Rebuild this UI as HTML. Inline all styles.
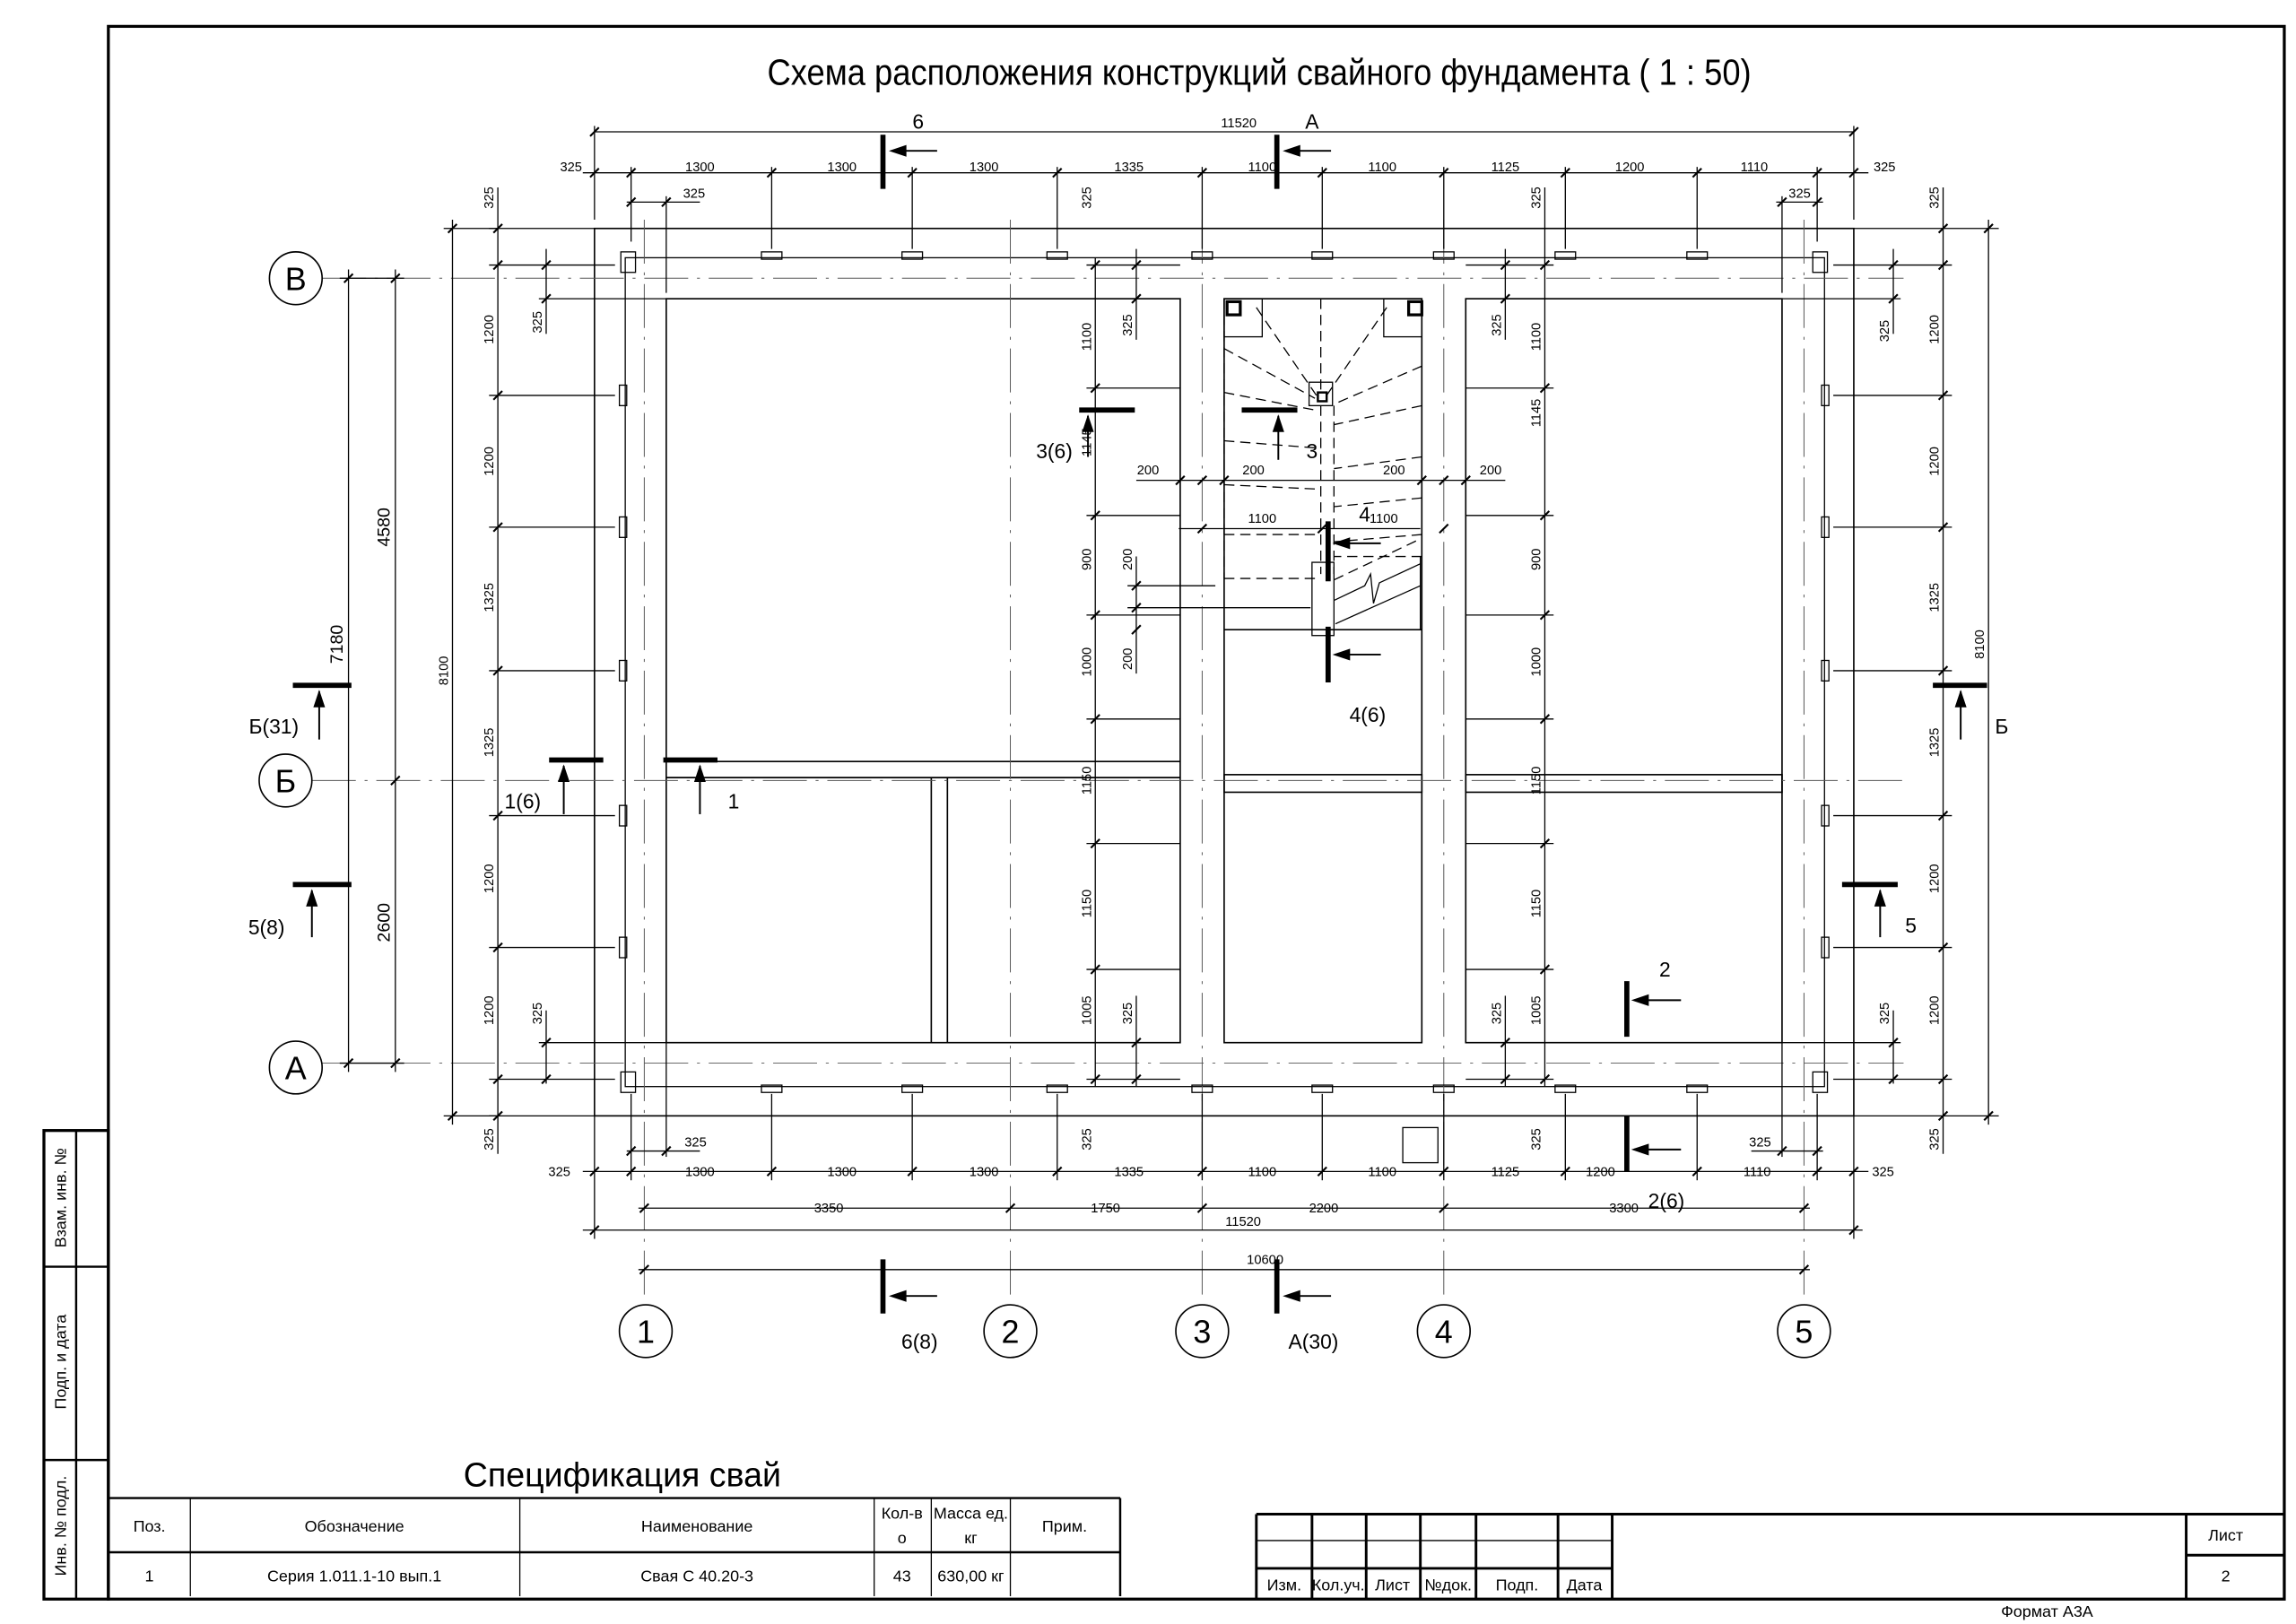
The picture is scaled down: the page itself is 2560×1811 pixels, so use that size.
<!DOCTYPE html>
<html><head><meta charset="utf-8"><style>
html,body{margin:0;padding:0;background:#fff}
svg{display:block}
text{font-family:"Liberation Sans Narrow","Liberation Sans",sans-serif;fill:#000}
</style></head><body>
<svg width="2560" height="1811" viewBox="0 0 1568 1109" preserveAspectRatio="none" xmlns="http://www.w3.org/2000/svg">
<defs>
<path id="t" d="M-3,3 L3,-3" stroke="#000" stroke-width="1.3"/>
<path id="ar" d="M0,0 L12,-4 L12,4 Z" fill="#000"/>
<path id="au" d="M0,0 L-4,12 L4,12 Z" fill="#000"/>
</defs>
<g fill="none" stroke="#000">
<rect x="74" y="18" width="1486" height="1074" stroke-width="2"/>
<rect x="30" y="772" width="44" height="320" stroke-width="2"/>
<line x1="52" y1="772" x2="52" y2="1092" stroke-width="1.5"/>
<line x1="30" y1="865" x2="74" y2="865" stroke-width="1.5"/>
<line x1="30" y1="997" x2="74" y2="997" stroke-width="1.5"/>

<rect x="406" y="156" width="860" height="606" stroke-width="1"/>
<rect x="427" y="176" width="819" height="566" stroke-width="0.8"/>
<g stroke-width="1">
<rect x="455" y="204" width="351" height="508"/>
<line x1="455" y1="520" x2="806" y2="520"/><line x1="455" y1="531" x2="806" y2="531"/>
<line x1="636" y1="531" x2="636" y2="712"/><line x1="647" y1="531" x2="647" y2="712"/>
<rect x="836" y="204" width="135" height="508"/>
<rect x="836" y="529" width="135" height="12"/>
<rect x="1001" y="204" width="216" height="508"/>
<rect x="1001" y="529" width="216" height="12"/>
<line x1="836" y1="430" x2="971" y2="430"/>
</g>
<g stroke-width="0.6" stroke-dasharray="30,6,2,6" stroke="#555">
<line x1="220" y1="190" x2="1300" y2="190"/>
<line x1="213" y1="533" x2="1300" y2="533"/>
<line x1="220" y1="726" x2="1300" y2="726"/>
<line x1="440" y1="150" x2="440" y2="890"/>
<line x1="690" y1="150" x2="690" y2="890"/>
<line x1="821" y1="150" x2="821" y2="890"/>
<line x1="986" y1="150" x2="986" y2="890"/>
<line x1="1232" y1="150" x2="1232" y2="890"/>
</g>
<g stroke-width="0.8">
<rect x="424" y="172" width="10" height="14"/><rect x="1238" y="172" width="10" height="14"/>
<rect x="424" y="732" width="10" height="14"/><rect x="1238" y="732" width="10" height="14"/>
<rect x="520" y="172" width="14" height="5"/><rect x="616" y="172" width="14" height="5"/><rect x="715" y="172" width="14" height="5"/><rect x="814" y="172" width="14" height="5"/><rect x="896" y="172" width="14" height="5"/><rect x="979" y="172" width="14" height="5"/><rect x="1062" y="172" width="14" height="5"/><rect x="1152" y="172" width="14" height="5"/>
<rect x="520" y="741" width="14" height="5"/><rect x="616" y="741" width="14" height="5"/><rect x="715" y="741" width="14" height="5"/><rect x="814" y="741" width="14" height="5"/><rect x="896" y="741" width="14" height="5"/><rect x="979" y="741" width="14" height="5"/><rect x="1062" y="741" width="14" height="5"/><rect x="1152" y="741" width="14" height="5"/>
<rect x="423" y="263" width="5" height="14"/><rect x="423" y="353" width="5" height="14"/><rect x="423" y="451" width="5" height="14"/><rect x="423" y="550" width="5" height="14"/><rect x="423" y="640" width="5" height="14"/>
<rect x="1244" y="263" width="5" height="14"/><rect x="1244" y="353" width="5" height="14"/><rect x="1244" y="451" width="5" height="14"/><rect x="1244" y="550" width="5" height="14"/><rect x="1244" y="640" width="5" height="14"/>
<rect x="958" y="770" width="24" height="24"/>
</g>

<g stroke-width="0.8">
<line x1="406" y1="90" x2="1266" y2="90"/>
<line x1="398" y1="118" x2="1276" y2="118"/>
<line x1="406" y1="86" x2="406" y2="150"/><line x1="1266" y1="86" x2="1266" y2="150"/>
<line x1="431" y1="114" x2="431" y2="165"/><line x1="527" y1="114" x2="527" y2="170"/><line x1="623" y1="114" x2="623" y2="170"/><line x1="722" y1="114" x2="722" y2="170"/><line x1="821" y1="114" x2="821" y2="170"/><line x1="903" y1="114" x2="903" y2="170"/><line x1="986" y1="114" x2="986" y2="170"/><line x1="1069" y1="114" x2="1069" y2="170"/><line x1="1159" y1="114" x2="1159" y2="170"/><line x1="1241" y1="114" x2="1241" y2="165"/>
<line x1="428" y1="138" x2="478" y2="138"/><line x1="455" y1="134" x2="455" y2="200"/>
<line x1="1213" y1="138" x2="1245" y2="138"/><line x1="1217" y1="134" x2="1217" y2="200"/>
<line x1="398" y1="800" x2="1276" y2="800"/>
<line x1="431" y1="747" x2="431" y2="806"/><line x1="527" y1="747" x2="527" y2="806"/><line x1="623" y1="747" x2="623" y2="806"/><line x1="722" y1="747" x2="722" y2="806"/><line x1="821" y1="747" x2="821" y2="806"/><line x1="903" y1="747" x2="903" y2="806"/><line x1="986" y1="747" x2="986" y2="806"/><line x1="1069" y1="747" x2="1069" y2="806"/><line x1="1159" y1="747" x2="1159" y2="806"/><line x1="1241" y1="747" x2="1241" y2="806"/>
<line x1="428" y1="786" x2="478" y2="786"/><line x1="455" y1="712" x2="455" y2="790"/>
<line x1="1196" y1="786" x2="1245" y2="786"/><line x1="1217" y1="712" x2="1217" y2="790"/>
<line x1="436" y1="825" x2="1236" y2="825"/>
<line x1="398" y1="840" x2="1272" y2="840"/>
<line x1="406" y1="762" x2="406" y2="846"/><line x1="1266" y1="762" x2="1266" y2="846"/>
<line x1="436" y1="867" x2="1236" y2="867"/>
<line x1="340" y1="128" x2="340" y2="788"/>
<line x1="334" y1="156" x2="406" y2="156"/><line x1="334" y1="181" x2="420" y2="181"/><line x1="334" y1="270" x2="420" y2="270"/><line x1="334" y1="360" x2="420" y2="360"/><line x1="334" y1="458" x2="420" y2="458"/><line x1="334" y1="557" x2="420" y2="557"/><line x1="334" y1="647" x2="420" y2="647"/><line x1="334" y1="737" x2="420" y2="737"/><line x1="334" y1="762" x2="406" y2="762"/>
<line x1="309" y1="150" x2="309" y2="768"/><line x1="303" y1="156" x2="340" y2="156"/><line x1="303" y1="762" x2="340" y2="762"/>
<line x1="270" y1="184" x2="270" y2="732"/>
<line x1="238" y1="184" x2="238" y2="732"/>
<line x1="232" y1="190" x2="276" y2="190"/><line x1="232" y1="726" x2="276" y2="726"/>
<line x1="373" y1="170" x2="373" y2="228"/><line x1="368" y1="204" x2="455" y2="204"/>
<line x1="373" y1="690" x2="373" y2="740"/><line x1="368" y1="712" x2="455" y2="712"/>
<line x1="1327" y1="128" x2="1327" y2="788"/>
<line x1="1266" y1="156" x2="1365" y2="156"/><line x1="1252" y1="181" x2="1333" y2="181"/><line x1="1252" y1="270" x2="1333" y2="270"/><line x1="1252" y1="360" x2="1333" y2="360"/><line x1="1252" y1="458" x2="1333" y2="458"/><line x1="1252" y1="557" x2="1333" y2="557"/><line x1="1252" y1="647" x2="1333" y2="647"/><line x1="1252" y1="737" x2="1333" y2="737"/><line x1="1266" y1="762" x2="1365" y2="762"/>
<line x1="1358" y1="150" x2="1358" y2="768"/>
<line x1="1293" y1="170" x2="1293" y2="228"/><line x1="1217" y1="204" x2="1298" y2="204"/>
<line x1="1293" y1="690" x2="1293" y2="740"/><line x1="1217" y1="712" x2="1298" y2="712"/>
<line x1="748" y1="176" x2="748" y2="742"/>
<line x1="742" y1="181" x2="806" y2="181"/><line x1="742" y1="265" x2="806" y2="265"/><line x1="742" y1="352" x2="806" y2="352"/><line x1="742" y1="420" x2="806" y2="420"/><line x1="742" y1="491" x2="806" y2="491"/><line x1="742" y1="576" x2="806" y2="576"/><line x1="742" y1="662" x2="806" y2="662"/><line x1="742" y1="737" x2="806" y2="737"/>
<line x1="776" y1="170" x2="776" y2="232"/><line x1="776" y1="380" x2="776" y2="460"/><line x1="770" y1="400" x2="830" y2="400"/><line x1="770" y1="415" x2="895" y2="415"/>
<line x1="776" y1="680" x2="776" y2="742"/>
<line x1="1055" y1="128" x2="1055" y2="742"/>
<line x1="1001" y1="181" x2="1061" y2="181"/><line x1="1001" y1="265" x2="1061" y2="265"/><line x1="1001" y1="352" x2="1061" y2="352"/><line x1="1001" y1="420" x2="1061" y2="420"/><line x1="1001" y1="491" x2="1061" y2="491"/><line x1="1001" y1="576" x2="1061" y2="576"/><line x1="1001" y1="662" x2="1061" y2="662"/><line x1="1001" y1="737" x2="1061" y2="737"/>
<line x1="1028" y1="170" x2="1028" y2="232"/><line x1="1028" y1="680" x2="1028" y2="742"/>
<line x1="776" y1="328" x2="1028" y2="328"/>
<line x1="805" y1="361" x2="835" y2="361"/><line x1="835" y1="361" x2="970" y2="361"/>
</g>
<g>
<use href="#t" x="406" y="90"/><use href="#t" x="1266" y="90"/>
<use href="#t" x="406" y="118"/><use href="#t" x="431" y="118"/><use href="#t" x="527" y="118"/><use href="#t" x="623" y="118"/><use href="#t" x="722" y="118"/><use href="#t" x="821" y="118"/><use href="#t" x="903" y="118"/><use href="#t" x="986" y="118"/><use href="#t" x="1069" y="118"/><use href="#t" x="1159" y="118"/><use href="#t" x="1241" y="118"/><use href="#t" x="1266" y="118"/>
<use href="#t" x="431" y="138"/><use href="#t" x="455" y="138"/><use href="#t" x="1217" y="138"/><use href="#t" x="1241" y="138"/>
<use href="#t" x="406" y="800"/><use href="#t" x="431" y="800"/><use href="#t" x="527" y="800"/><use href="#t" x="623" y="800"/><use href="#t" x="722" y="800"/><use href="#t" x="821" y="800"/><use href="#t" x="903" y="800"/><use href="#t" x="986" y="800"/><use href="#t" x="1069" y="800"/><use href="#t" x="1159" y="800"/><use href="#t" x="1241" y="800"/><use href="#t" x="1266" y="800"/>
<use href="#t" x="431" y="786"/><use href="#t" x="455" y="786"/><use href="#t" x="1217" y="786"/><use href="#t" x="1241" y="786"/>
<use href="#t" x="440" y="825"/><use href="#t" x="690" y="825"/><use href="#t" x="821" y="825"/><use href="#t" x="986" y="825"/><use href="#t" x="1232" y="825"/>
<use href="#t" x="406" y="840"/><use href="#t" x="1266" y="840"/>
<use href="#t" x="440" y="867"/><use href="#t" x="1232" y="867"/>
<use href="#t" x="340" y="156"/><use href="#t" x="340" y="181"/><use href="#t" x="340" y="270"/><use href="#t" x="340" y="360"/><use href="#t" x="340" y="458"/><use href="#t" x="340" y="557"/><use href="#t" x="340" y="647"/><use href="#t" x="340" y="737"/><use href="#t" x="340" y="762"/>
<use href="#t" x="309" y="156"/><use href="#t" x="309" y="762"/>
<use href="#t" x="270" y="190"/><use href="#t" x="270" y="533"/><use href="#t" x="270" y="726"/><use href="#t" x="238" y="190"/><use href="#t" x="238" y="726"/>
<use href="#t" x="373" y="181"/><use href="#t" x="373" y="204"/><use href="#t" x="373" y="712"/><use href="#t" x="373" y="737"/>
<use href="#t" x="1327" y="156"/><use href="#t" x="1327" y="181"/><use href="#t" x="1327" y="270"/><use href="#t" x="1327" y="360"/><use href="#t" x="1327" y="458"/><use href="#t" x="1327" y="557"/><use href="#t" x="1327" y="647"/><use href="#t" x="1327" y="737"/><use href="#t" x="1327" y="762"/>
<use href="#t" x="1358" y="156"/><use href="#t" x="1358" y="762"/>
<use href="#t" x="1293" y="181"/><use href="#t" x="1293" y="204"/><use href="#t" x="1293" y="712"/><use href="#t" x="1293" y="737"/>
<use href="#t" x="748" y="181"/><use href="#t" x="748" y="265"/><use href="#t" x="748" y="352"/><use href="#t" x="748" y="420"/><use href="#t" x="748" y="491"/><use href="#t" x="748" y="576"/><use href="#t" x="748" y="662"/><use href="#t" x="748" y="737"/>
<use href="#t" x="1055" y="181"/><use href="#t" x="1055" y="265"/><use href="#t" x="1055" y="352"/><use href="#t" x="1055" y="420"/><use href="#t" x="1055" y="491"/><use href="#t" x="1055" y="576"/><use href="#t" x="1055" y="662"/><use href="#t" x="1055" y="737"/>
<use href="#t" x="776" y="181"/><use href="#t" x="776" y="204"/><use href="#t" x="776" y="400"/><use href="#t" x="776" y="415"/><use href="#t" x="776" y="430"/><use href="#t" x="776" y="712"/><use href="#t" x="776" y="737"/>
<use href="#t" x="1028" y="181"/><use href="#t" x="1028" y="204"/><use href="#t" x="1028" y="712"/><use href="#t" x="1028" y="737"/>
<use href="#t" x="806" y="328"/><use href="#t" x="821" y="328"/><use href="#t" x="836" y="328"/><use href="#t" x="971" y="328"/><use href="#t" x="986" y="328"/><use href="#t" x="1001" y="328"/>
<use href="#t" x="821" y="361"/><use href="#t" x="903" y="361"/><use href="#t" x="986" y="361"/>
</g>

<g stroke-width="0.8" fill="none">
<rect x="838" y="206" width="9" height="9" stroke-width="2"/><rect x="962" y="206" width="9" height="9" stroke-width="2"/>
<rect x="836" y="204" width="26" height="26"/><rect x="945" y="204" width="26" height="26"/>
<rect x="894" y="261" width="16" height="16"/><rect x="900" y="268" width="6" height="6" stroke-width="1.5"/>
<g stroke-dasharray="7,4">
<line x1="836" y1="204" x2="836" y2="395"/><line x1="971" y1="204" x2="971" y2="395"/>
<line x1="902" y1="204" x2="902" y2="270"/><line x1="902" y1="277" x2="902" y2="392"/><line x1="911" y1="277" x2="911" y2="392"/>
<line x1="858" y1="210" x2="899" y2="270"/><line x1="947" y1="210" x2="906" y2="270"/>
<line x1="836" y1="238" x2="898" y2="272"/><line x1="836" y1="268" x2="898" y2="280"/><line x1="836" y1="301" x2="900" y2="306"/><line x1="836" y1="331" x2="900" y2="334"/><line x1="836" y1="365" x2="900" y2="365"/><line x1="836" y1="395" x2="900" y2="395"/>
<line x1="971" y1="250" x2="911" y2="276"/><line x1="971" y1="277" x2="911" y2="290"/><line x1="971" y1="312" x2="911" y2="320"/><line x1="971" y1="340" x2="911" y2="346"/><line x1="971" y1="365" x2="911" y2="370"/><line x1="971" y1="380" x2="911" y2="380"/>
<line x1="911" y1="396" x2="970" y2="368"/>
</g>
<rect x="896" y="384" width="15" height="50"/>
<polyline points="911,410 932,400 936,392 938,412 942,398 970,385"/>
<line x1="912" y1="426" x2="970" y2="400"/>
<line x1="970" y1="380" x2="970" y2="430"/>
</g>

<g stroke-width="3.5">
<line x1="603" y1="92" x2="603" y2="129"/><line x1="872" y1="92" x2="872" y2="129"/>
<line x1="603" y1="860" x2="603" y2="897"/><line x1="872" y1="860" x2="872" y2="897"/>
<line x1="200" y1="468" x2="240" y2="468"/><line x1="200" y1="604" x2="240" y2="604"/>
<line x1="375" y1="519" x2="412" y2="519"/><line x1="453" y1="519" x2="490" y2="519"/>
<line x1="737" y1="280" x2="775" y2="280"/><line x1="848" y1="280" x2="886" y2="280"/>
<line x1="1320" y1="468" x2="1357" y2="468"/><line x1="1258" y1="604" x2="1296" y2="604"/>
<line x1="1111" y1="670" x2="1111" y2="708"/><line x1="1111" y1="762" x2="1111" y2="800"/>
<line x1="907" y1="356" x2="907" y2="397"/><line x1="907" y1="428" x2="907" y2="466"/>
</g>
<g stroke-width="1.2">
<line x1="610" y1="103" x2="640" y2="103"/><line x1="879" y1="103" x2="909" y2="103"/>
<line x1="610" y1="885" x2="640" y2="885"/><line x1="879" y1="885" x2="909" y2="885"/>
<line x1="218" y1="472" x2="218" y2="505"/><line x1="213" y1="608" x2="213" y2="640"/>
<line x1="385" y1="523" x2="385" y2="556"/><line x1="478" y1="523" x2="478" y2="556"/>
<line x1="743" y1="284" x2="743" y2="312"/><line x1="873" y1="284" x2="873" y2="314"/>
<line x1="1339" y1="472" x2="1339" y2="505"/><line x1="1284" y1="608" x2="1284" y2="640"/>
<line x1="1116" y1="683" x2="1148" y2="683"/><line x1="1116" y1="785" x2="1148" y2="785"/>
<line x1="912" y1="371" x2="943" y2="371"/><line x1="912" y1="447" x2="943" y2="447"/>
</g>
</g>
<g>
<use href="#ar" x="607" y="103"/><use href="#ar" x="876" y="103"/><use href="#ar" x="607" y="885"/><use href="#ar" x="876" y="885"/>
<use href="#ar" x="1114" y="683"/><use href="#ar" x="1114" y="785"/><use href="#ar" x="910" y="371"/><use href="#ar" x="910" y="447"/>
<use href="#au" x="218" y="471"/><use href="#au" x="213" y="607"/><use href="#au" x="385" y="522"/><use href="#au" x="478" y="522"/>
<use href="#au" x="743" y="283"/><use href="#au" x="873" y="283"/><use href="#au" x="1339" y="471"/><use href="#au" x="1284" y="607"/>
</g>

<g fill="#fff" stroke="#000" stroke-width="1">
<circle cx="202" cy="190" r="18"/><circle cx="195" cy="533" r="18"/><circle cx="202" cy="729" r="18"/>
<ellipse cx="441" cy="909" rx="18" ry="18"/><ellipse cx="690" cy="909" rx="18" ry="18"/><ellipse cx="821" cy="909" rx="18" ry="18"/><ellipse cx="986" cy="909" rx="18" ry="18"/><ellipse cx="1232" cy="909" rx="18" ry="18"/>
</g>
<g font-size="22" text-anchor="middle">
<text x="202" y="198">В</text><text x="195" y="541">Б</text><text x="202" y="737">А</text>
<text x="441" y="917">1</text><text x="690" y="917">2</text><text x="821" y="917">3</text><text x="986" y="917">4</text><text x="1232" y="917">5</text>
</g>

<text x="524" y="58" font-size="25" textLength="672" lengthAdjust="spacingAndGlyphs">Схема расположения конструкций свайного фундамента ( 1 : 50)</text>

<g font-size="14" text-anchor="middle">
<text x="627" y="88">6</text><text x="896" y="88">А</text>
<text x="628" y="921">6(8)</text><text x="897" y="921">А(30)</text>
<text x="187" y="501">Б(31)</text><text x="182" y="638">5(8)</text>
<text x="357" y="552">1(6)</text><text x="501" y="552">1</text>
<text x="720" y="313">3(6)</text><text x="896" y="313">3</text>
<text x="1367" y="501">Б</text><text x="1305" y="637">5</text>
<text x="1137" y="667">2</text><text x="1138" y="825">2(6)</text>
<text x="932" y="356">4</text><text x="934" y="493">4(6)</text>
</g>

<g font-size="9" text-anchor="middle">
<text x="846" y="87">11520</text>
<text x="390" y="117">325</text><text x="478" y="117">1300</text><text x="575" y="117">1300</text><text x="672" y="117">1300</text><text x="771" y="117">1335</text><text x="862" y="117">1100</text><text x="944" y="117">1100</text><text x="1028" y="117">1125</text><text x="1113" y="117">1200</text><text x="1198" y="117">1110</text><text x="1287" y="117">325</text>
<text x="474" y="135">325</text><text x="1229" y="135">325</text>
<text x="475" y="783">325</text><text x="1202" y="783">325</text>
<text x="382" y="803">325</text><text x="478" y="803">1300</text><text x="575" y="803">1300</text><text x="672" y="803">1300</text><text x="771" y="803">1335</text><text x="862" y="803">1100</text><text x="944" y="803">1100</text><text x="1028" y="803">1125</text><text x="1093" y="803">1200</text><text x="1200" y="803">1110</text><text x="1286" y="803">325</text>
<text x="566" y="828">3350</text><text x="755" y="828">1750</text><text x="904" y="828">2200</text><text x="1109" y="828">3300</text>
<text x="849" y="837">11520</text><text x="864" y="863">10600</text>
<text x="862" y="357">1100</text><text x="945" y="357">1100</text>
<text x="784" y="324">200</text><text x="856" y="324">200</text><text x="952" y="324">200</text><text x="1018" y="324">200</text>
</g>
<g font-size="9" text-anchor="middle">
<text transform="translate(337,135) rotate(-90)">325</text>
<text transform="translate(337,225) rotate(-90)">1200</text>
<text transform="translate(337,315) rotate(-90)">1200</text>
<text transform="translate(337,408) rotate(-90)">1325</text>
<text transform="translate(337,507) rotate(-90)">1325</text>
<text transform="translate(337,600) rotate(-90)">1200</text>
<text transform="translate(337,690) rotate(-90)">1200</text>
<text transform="translate(337,778) rotate(-90)">325</text>
<text transform="translate(370,220) rotate(-90)">325</text>
<text transform="translate(370,692) rotate(-90)">325</text>
<text transform="translate(306,458) rotate(-90)">8100</text>
<text transform="translate(1324,135) rotate(-90)">325</text>
<text transform="translate(1324,225) rotate(-90)">1200</text>
<text transform="translate(1324,315) rotate(-90)">1200</text>
<text transform="translate(1324,408) rotate(-90)">1325</text>
<text transform="translate(1324,507) rotate(-90)">1325</text>
<text transform="translate(1324,600) rotate(-90)">1200</text>
<text transform="translate(1324,690) rotate(-90)">1200</text>
<text transform="translate(1324,778) rotate(-90)">325</text>
<text transform="translate(1290,226) rotate(-90)">325</text>
<text transform="translate(1290,692) rotate(-90)">325</text>
<text transform="translate(1355,440) rotate(-90)">8100</text>
<text transform="translate(745,230) rotate(-90)">1100</text>
<text transform="translate(745,302) rotate(-90)">1145</text>
<text transform="translate(745,382) rotate(-90)">900</text>
<text transform="translate(745,452) rotate(-90)">1000</text>
<text transform="translate(745,533) rotate(-90)">1150</text>
<text transform="translate(745,617) rotate(-90)">1150</text>
<text transform="translate(745,690) rotate(-90)">1005</text>
<text transform="translate(745,135) rotate(-90)">325</text>
<text transform="translate(745,778) rotate(-90)">325</text>
<text transform="translate(773,222) rotate(-90)">325</text>
<text transform="translate(773,692) rotate(-90)">325</text>
<text transform="translate(773,382) rotate(-90)">200</text>
<text transform="translate(773,450) rotate(-90)">200</text>
<text transform="translate(1052,230) rotate(-90)">1100</text>
<text transform="translate(1052,282) rotate(-90)">1145</text>
<text transform="translate(1052,382) rotate(-90)">900</text>
<text transform="translate(1052,452) rotate(-90)">1000</text>
<text transform="translate(1052,533) rotate(-90)">1150</text>
<text transform="translate(1052,617) rotate(-90)">1150</text>
<text transform="translate(1052,690) rotate(-90)">1005</text>
<text transform="translate(1052,135) rotate(-90)">325</text>
<text transform="translate(1052,778) rotate(-90)">325</text>
<text transform="translate(1025,222) rotate(-90)">325</text>
<text transform="translate(1025,692) rotate(-90)">325</text>
</g>
<g font-size="12" text-anchor="middle">
<text transform="translate(234,440) rotate(-90)">7180</text>
<text transform="translate(266,360) rotate(-90)">4580</text>
<text transform="translate(266,630) rotate(-90)">2600</text>
</g>

<g font-size="11" text-anchor="middle">
<text transform="translate(45,818) rotate(-90)">Взам. инв. №</text>
<text transform="translate(45,930) rotate(-90)">Подп. и дата</text>
<text transform="translate(45,1042) rotate(-90)">Инв. № подл.</text>
</g>

<text x="425" y="1015" font-size="23" text-anchor="middle">Спецификация свай</text>
<g fill="none" stroke="#000">
<line x1="74" y1="1023" x2="765" y2="1023" stroke-width="1.5"/>
<line x1="74" y1="1060" x2="765" y2="1060" stroke-width="1.5"/>
<line x1="765" y1="1023" x2="765" y2="1090" stroke-width="1.5"/>
<g stroke-width="0.8"><line x1="130" y1="1023" x2="130" y2="1090"/><line x1="355" y1="1023" x2="355" y2="1090"/><line x1="597" y1="1023" x2="597" y2="1090"/><line x1="636" y1="1023" x2="636" y2="1090"/><line x1="690" y1="1023" x2="690" y2="1090"/></g>
</g>
<g font-size="11" text-anchor="middle">
<text x="102" y="1046">Поз.</text><text x="242" y="1046">Обозначение</text><text x="476" y="1046">Наименование</text>
<text x="616" y="1037">Кол-в</text><text x="616" y="1054">о</text><text x="663" y="1037">Масса ед.</text><text x="663" y="1054">кг</text><text x="727" y="1046">Прим.</text>
<text x="102" y="1080">1</text><text x="242" y="1080">Серия 1.011.1-10 вып.1</text><text x="476" y="1080">Свая С 40.20-3</text>
<text x="616" y="1080">43</text><text x="663" y="1080">630,00 кг</text>
</g>

<g fill="none" stroke="#000" stroke-width="1.8">
<line x1="858" y1="1034" x2="1560" y2="1034"/>
<line x1="858" y1="1034" x2="858" y2="1092"/>
<line x1="1101" y1="1034" x2="1101" y2="1092"/>
<line x1="1493" y1="1034" x2="1493" y2="1092"/>
<line x1="1493" y1="1062" x2="1560" y2="1062"/>
<line x1="858" y1="1071" x2="1101" y2="1071"/>
<line x1="896" y1="1034" x2="896" y2="1092"/><line x1="933" y1="1034" x2="933" y2="1092"/><line x1="970" y1="1034" x2="970" y2="1092"/><line x1="1008" y1="1034" x2="1008" y2="1092"/><line x1="1064" y1="1034" x2="1064" y2="1092"/>
<line x1="858" y1="1052" x2="1101" y2="1052" stroke-width="0.8"/>
</g>
<g font-size="11" text-anchor="middle">
<text x="877" y="1086">Изм.</text><text x="914" y="1086">Кол.уч.</text><text x="951" y="1086">Лист</text><text x="989" y="1086">№док.</text><text x="1036" y="1086">Подп.</text><text x="1082" y="1086">Дата</text>
<text x="1520" y="1052">Лист</text><text x="1520" y="1080">2</text>
<text x="1398" y="1104">Формат А3А</text>
</g>
</svg>
</body></html>
